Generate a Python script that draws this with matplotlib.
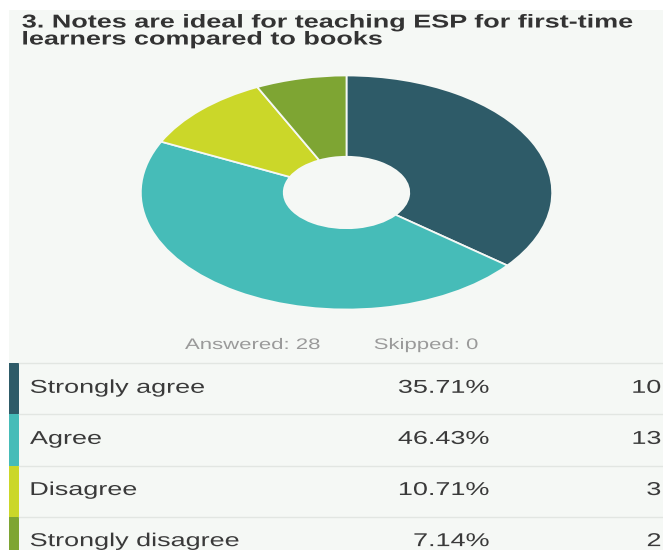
import matplotlib
matplotlib.use("Agg")
import matplotlib.pyplot as plt
from matplotlib.patches import Rectangle
from matplotlib.patheffects import AbstractPathEffect
from matplotlib.transforms import Affine2D

# Survey question and responses
title_lines = ["3. Notes are ideal for teaching ESP for first-time",
               "learners compared to books"]
answers = ["Strongly agree", "Agree", "Disagree", "Strongly disagree"]
percents = [35.71, 46.43, 10.71, 7.14]
counts = [10, 13, 3, 2]
answered = 28
skipped = 0
colors = ["#2e5b68", "#46bcb8", "#cbd729", "#7ea533"]

PANEL = "#f5f8f5"
FONT = "Liberation Sans"
SX = 1.45  # horizontal stretch of the lettering


class HStretch(AbstractPathEffect):
    """Widen glyphs horizontally around the left or right ink edge."""

    def __init__(self, sx, anchor="left"):
        super().__init__()
        self.sx = sx
        self.anchor = anchor

    def draw_path(self, renderer, gc, tpath, affine, rgbFace=None):
        ext = tpath.get_extents(affine)
        x0 = ext.x0 if self.anchor == "left" else ext.x1
        t = affine + Affine2D().translate(-x0, 0).scale(self.sx, 1).translate(x0, 0)
        renderer.draw_path(gc, tpath, t, rgbFace)


W, H = 663, 550
fig = plt.figure(figsize=(W / 100, H / 100), dpi=100, facecolor="white")

base = fig.add_axes([0, 0, 1, 1])
base.set_xlim(0, W)
base.set_ylim(H, 0)
base.axis("off")
base.add_patch(Rectangle((9, 10), W - 9, H - 10, facecolor=PANEL, edgecolor="none"))


def txt(x, y, s, size, color, weight="normal", ha="left"):
    base.text(x, y, s, fontsize=size, color=color, fontweight=weight,
              family=FONT, ha=ha, va="baseline",
              path_effects=[HStretch(SX, "left" if ha == "left" else "right")])


# title
txt(22, 27.5, title_lines[0], 13.4, "#333333", weight="bold")
txt(22, 44.5, title_lines[1], 13.4, "#333333", weight="bold")

# doughnut
pie_ax = fig.add_axes([140 / W, (H - 310) / H, 413 / W, 235 / H])
pie_ax.set_facecolor("none")
pie_ax.pie(percents, colors=colors, startangle=90, counterclock=False,
           wedgeprops=dict(width=0.695, edgecolor=PANEL, linewidth=1.3))
pie_ax.set_aspect("auto")
pie_ax.set_xlim(-1.004, 1.004)
pie_ax.set_ylim(-1.004, 1.004)
pie_ax.axis("off")

# answered / skipped summary
txt(185, 349, f"Answered: {answered}", 11, "#9a9a9a")
txt(374, 349, f"Skipped: {skipped}", 11, "#9a9a9a")

# response table
row_top = 363.3
row_h = 51.1
for i, (ans, pct, cnt, col) in enumerate(zip(answers, percents, counts, colors)):
    top = row_top + i * row_h
    base.plot([19, W], [top, top], color="#e2e6e2", lw=1.0)
    base.add_patch(Rectangle((9, top), 10, H - top, facecolor=col, edgecolor="none"))
    baseline = top + 29.5
    txt(30, baseline, ans, 13.4, "#3a3a3a")
    txt(489, baseline, f"{pct:.2f}%", 13.4, "#3a3a3a", ha="right")
    txt(661, baseline, f"{cnt}", 13.4, "#3a3a3a", ha="right")

fig.savefig("out.png", dpi=100, facecolor="white")
